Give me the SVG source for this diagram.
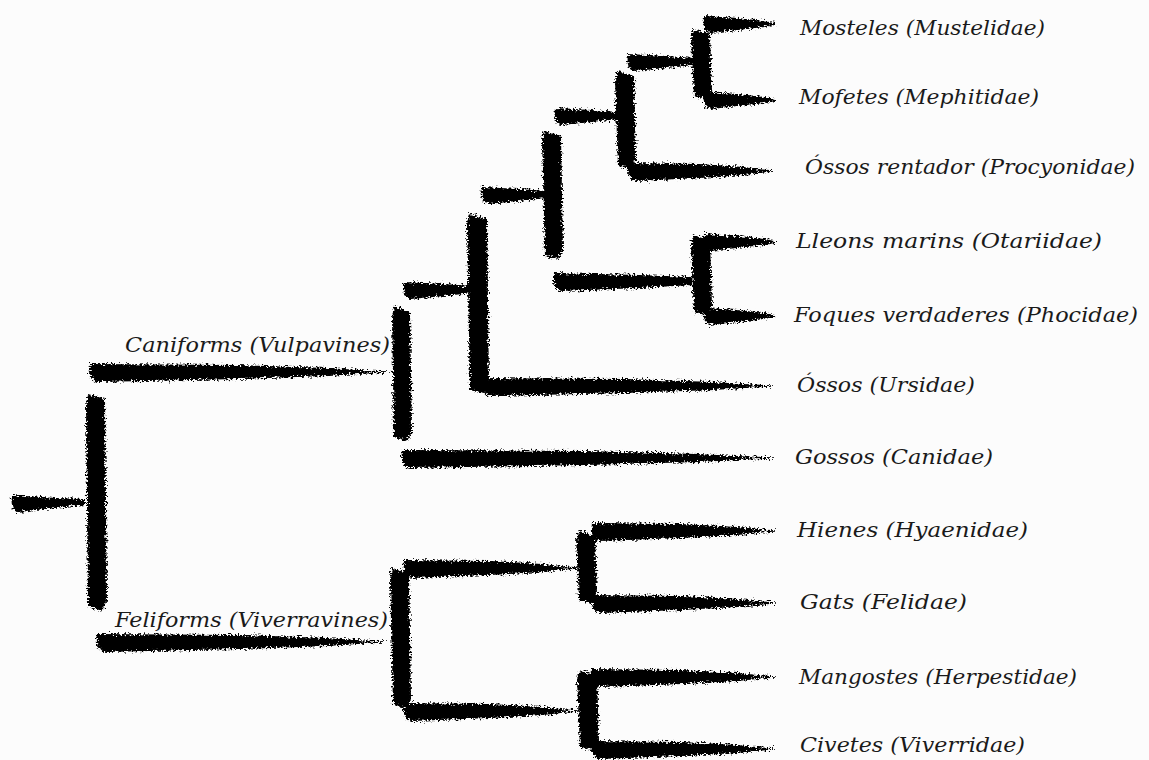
<svg xmlns="http://www.w3.org/2000/svg" width="1149" height="760" viewBox="0 0 1149 760">
  <defs>
    <!-- ragged ink edge for the brush strokes -->
    <filter id="brush" filterUnits="userSpaceOnUse" x="0" y="0" width="1149" height="760">
      <feTurbulence type="fractalNoise" baseFrequency="0.45 0.6" numOctaves="3" seed="7" result="n"/>
      <feDisplacementMap in="SourceGraphic" in2="n" scale="8" xChannelSelector="R" yChannelSelector="G"/>
    </filter>
  </defs>
  <style>
    .ink { fill: #050505; }
    .lbl { font-family: "DejaVu Serif", "Liberation Serif", serif; font-style: italic; font-size: 20px; fill: #1a1a1a; }
  </style>
  <rect width="1149" height="760" fill="#fcfcfc"/>

  <g id="connectors" class="ink" filter="url(#brush)">
    <!-- root stub and root vertical -->
    <path d="M12,495 L55,498 L85,499 L85,505 L55,508 L18,512 Q10,511 12,495 Z"/>
    <path d="M88,394 L105,399 L107,600 L102,611 L88,606 L86,405 Z"/>
    <!-- Caniforms / Feliforms stems -->
    <path d="M90,364 L238,365 L328,368 L367,370.5 L388,371.2 L388,372.8 L367,373.5 L328,376 L238,379 L98,382 Q88,381 90,364 Z"/>
    <path d="M97,634 L240,635 L327,638 L365,640.5 L385,641.2 L385,642.8 L365,643.5 L327,646 L240,649 L105,652 Q95,651 97,634 Z"/>

    <!-- Caniform node -->
    <path d="M394,306 L410,312 L412,432 L407,441 L394,437 L392,318 Z"/>
    <path d="M404,282 L444,284 L472,286 L472,293 L444,296 L410,299 Q402,298 404,282 Z"/>
    <path d="M402,450 L586,451 L698,454 L747,456.5 L773,457.2 L773,458.8 L747,459.5 L698,462 L586,465 L410,468 Q400,467 402,450 Z"/>

    <!-- Arctoid node -->
    <path d="M469,214 L487,219 L489,384 L484,393 L470,390 L467,224 Z"/>
    <path d="M482,187 L519,189 L545,191 L545,198 L519,201 L488,204 Q480,203 482,187 Z"/>
    <path d="M482,378 L626,379 L714,382 L752,384.5 L772,385.2 L772,386.8 L752,387.5 L714,390 L626,393 L490,396 Q480,395 482,378 Z"/>

    <!-- Musteloid + pinniped node -->
    <path d="M544,131 L561,136 L563,250 L558,259 L545,256 L542,140 Z"/>
    <path d="M555,108 L592,110 L618,112 L618,119 L592,122 L561,125 Q553,124 555,108 Z"/>
    <path d="M554,273 L640,275 L692,277 L692,285 L640,288 L562,291 Q552,290 554,273 Z"/>

    <!-- Musteloid node -->
    <path d="M617,71 L634,76 L636,160 L631,169 L618,166 L615,80 Z"/>
    <path d="M628,54 L667,56 L694,58 L694,65 L667,68 L634,71 Q626,70 628,54 Z"/>
    <path d="M628,163 L700,164 L744,167 L763,169.5 L773,170.2 L773,171.8 L763,172.5 L744,175 L700,178 L636,181 Q626,180 628,163 Z"/>

    <!-- Mustelidae / Mephitidae -->
    <path d="M693,29 L710,34 L712,90 L707,99 L694,96 L691,38 Z"/>
    <path d="M704,16 L738,18 L764,21 L775,23 L775,25 L764,27 L738,30 L710,33 Q702,32 704,16 Z"/>
    <path d="M704,92 L738,94 L764,97 L775,99 L775,101 L764,103 L738,106 L710,109 Q702,108 704,92 Z"/>

    <!-- Otariidae / Phocidae -->
    <path d="M693,235 L710,240 L712,306 L707,315 L694,312 L691,244 Z"/>
    <path d="M704,234 L738,236 L764,239 L775,241 L775,243 L764,245 L738,248 L710,251 Q702,250 704,234 Z"/>
    <path d="M704,308 L738,310 L764,313 L775,315 L775,317 L764,319 L738,322 L710,325 Q702,324 704,308 Z"/>

    <!-- Feliform node -->
    <path d="M392,568 L409,573 L411,699 L406,708 L393,705 L390,578 Z"/>
    <path d="M404,560 L490,561 L543,564 L566,566.5 L578,567.2 L578,568.8 L566,569.5 L543,572 L490,575 L412,578 Q402,577 404,560 Z"/>
    <path d="M404,703 L490,704 L543,707 L566,709.5 L578,710.2 L578,711.8 L566,712.5 L543,715 L490,718 L412,721 Q402,720 404,703 Z"/>

    <!-- Hyaenidae / Felidae -->
    <path d="M578,531 L595,536 L597,594 L592,603 L579,600 L576,540 Z"/>
    <path d="M592,523 L682,524 L738,527 L762,529.5 L775,530.2 L775,531.8 L762,532.5 L738,535 L682,538 L600,541 Q590,540 592,523 Z"/>
    <path d="M592,595 L682,596 L738,599 L762,601.5 L775,602.2 L775,603.8 L762,604.5 L738,607 L682,610 L600,613 Q590,612 592,595 Z"/>

    <!-- Herpestidae / Viverridae -->
    <path d="M579,671 L597,674 L599,742 L595,750 L580,748 L577,680 Z"/>
    <path d="M592,669 L682,670 L738,673 L762,675.5 L775,676.2 L775,677.8 L762,678.5 L738,681 L682,684 L600,687 Q590,686 592,669 Z"/>
    <path d="M592,741 L682,742 L738,745 L762,747.5 L775,748.2 L775,749.8 L762,750.5 L738,753 L682,756 L600,759 Q590,758 592,741 Z"/>
  </g>

  <g id="clade-caniforms"><text class="lbl" x="125" y="352" textLength="265" lengthAdjust="spacingAndGlyphs">Caniforms (Vulpavines)</text></g>
  <g id="clade-feliforms"><text class="lbl" x="115" y="627" textLength="273" lengthAdjust="spacingAndGlyphs">Feliforms (Viverravines)</text></g>

  <g id="mustelidae"><text class="lbl" x="800" y="35" textLength="245" lengthAdjust="spacingAndGlyphs">Mosteles  (Mustelidae)</text></g>
  <g id="mephitidae"><text class="lbl" x="799" y="104" textLength="240" lengthAdjust="spacingAndGlyphs">Mofetes  (Mephitidae)</text></g>
  <g id="procyonidae"><text class="lbl" x="805" y="174" textLength="330" lengthAdjust="spacingAndGlyphs">Óssos rentador (Procyonidae)</text></g>
  <g id="otariidae"><text class="lbl" x="796" y="248" textLength="306" lengthAdjust="spacingAndGlyphs">Lleons marins  (Otariidae)</text></g>
  <g id="phocidae"><text class="lbl" x="794" y="322" textLength="344" lengthAdjust="spacingAndGlyphs">Foques verdaderes  (Phocidae)</text></g>
  <g id="ursidae"><text class="lbl" x="797" y="392" textLength="178" lengthAdjust="spacingAndGlyphs">Óssos  (Ursidae)</text></g>
  <g id="canidae"><text class="lbl" x="795" y="464" textLength="198" lengthAdjust="spacingAndGlyphs">Gossos  (Canidae)</text></g>
  <g id="hyaenidae"><text class="lbl" x="797" y="537" textLength="231" lengthAdjust="spacingAndGlyphs">Hienes  (Hyaenidae)</text></g>
  <g id="felidae"><text class="lbl" x="800" y="609" textLength="167" lengthAdjust="spacingAndGlyphs">Gats  (Felidae)</text></g>
  <g id="herpestidae"><text class="lbl" x="799" y="684" textLength="278" lengthAdjust="spacingAndGlyphs">Mangostes  (Herpestidae)</text></g>
  <g id="viverridae"><text class="lbl" x="800" y="752" textLength="225" lengthAdjust="spacingAndGlyphs">Civetes (Viverridae)</text></g>
</svg>
